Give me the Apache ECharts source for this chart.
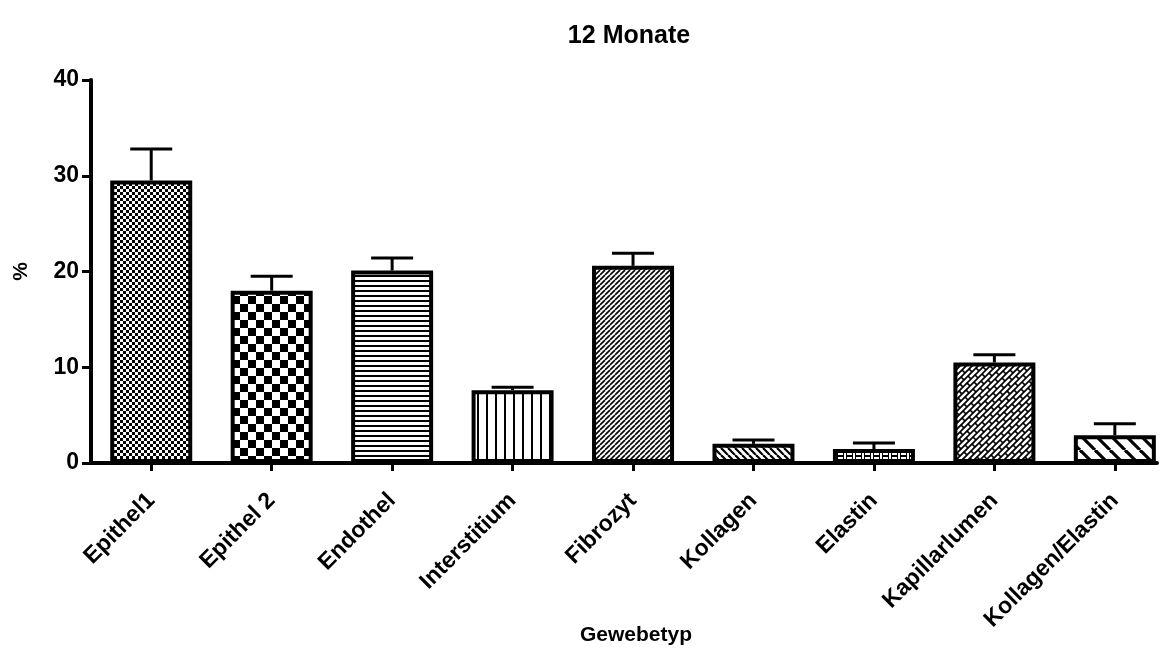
<!DOCTYPE html>
<html>
<head>
<meta charset="utf-8">
<script src="https://cdn.jsdelivr.net/npm/echarts@6/dist/echarts.min.js"></script>
<style>
html,body{margin:0;padding:0;background:#fff;}
#chart{width:1165px;height:668px;}
</style>
</head>
<body>
<div id="chart"></div>
<script>
// Tissue types and mean share (%) with upper error (SEM)
const categories = ['Epithel1', 'Epithel 2', 'Endothel', 'Interstitium', 'Fibrozyt', 'Kollagen', 'Elastin', 'Kapillarlumen', 'Kollagen/Elastin'];
const means = [29.5, 18.0, 20.1, 7.6, 20.6, 2.0, 1.45, 10.5, 2.9];
const errors = [3.3, 1.5, 1.3, 0.3, 1.3, 0.4, 0.65, 0.8, 1.2];
const yTicks = [0, 10, 20, 30, 40];
const positions = categories.map((c, i) => i);

// Build a canvas tile for a fill pattern
function tile(w, h, draw) {
  const c = document.createElement('canvas');
  c.width = w; c.height = h;
  const g = c.getContext('2d');
  g.fillStyle = '#fff'; g.fillRect(0, 0, w, h);
  g.fillStyle = '#000'; g.strokeStyle = '#000';
  draw(g, w, h);
  return { image: c, repeat: 'repeat' };
}
function seg(g, x1, y1, x2, y2) {
  g.beginPath(); g.moveTo(x1, y1); g.lineTo(x2, y2); g.stroke();
}
function diag(g, p, lw, back) {
  g.lineWidth = lw;
  for (let k = -1; k <= 1; k++) {
    if (back) seg(g, k * p, 0, k * p + p, p);
    else seg(g, k * p, p, k * p + p, 0);
  }
}
// Slanted brick weave
function bricks(g) {
  g.lineWidth = 1.7;
  for (let k = -10; k <= 20; k++) {
    const s = 6 * k;
    seg(g, s + 10, -10, s - 70, 70);
    for (let m = -8; m <= 8; m++) {
      const c = 16 * m + 8 * (((k % 2) + 2) % 2);
      seg(g, (s + c) / 2, (s - c) / 2, (s + 6 + c) / 2, (s + 6 - c) / 2);
    }
  }
}
const patterns = [
  tile(6, 6, g => { g.fillRect(0, 0, 3, 3); g.fillRect(3, 3, 3, 3); }),
  tile(16, 16, g => { g.fillRect(0, 0, 8, 8); g.fillRect(8, 8, 8, 8); }),
  tile(5, 5, g => { g.fillRect(0, 0, 5, 2); }),
  tile(9, 9, g => { g.fillRect(0, 0, 2, 9); }),
  tile(5, 5, g => diag(g, 5, 1.6, false)),
  tile(7, 7, g => diag(g, 7, 2.2, true)),
  tile(9, 5, g => { g.fillRect(0, 0, 7, 2); g.fillRect(0, 0, 1, 5); g.fillRect(6, 0, 1, 5); }),
  tile(48, 48, bricks),
  tile(15, 15, g => diag(g, 15, 3.2, true))
];

const font = 'Liberation Sans, Arial, Helvetica, sans-serif';
const chart = echarts.init(document.getElementById('chart'), null, { renderer: 'canvas' });

chart.setOption({
  animation: false,
  backgroundColor: '#fff',
  title: {
    text: '12 Monate', left: 624, top: 19, textAlign: 'center',
    textStyle: { fontFamily: font, fontWeight: 'bold', fontSize: 25, color: '#000' }
  },
  grid: { left: 91, right: 8, top: 80, bottom: 205, containLabel: false, outerBoundsMode: 'none' },
  xAxis: {
    type: 'value', min: -0.5, max: 8.35,
    name: 'Gewebetyp', nameLocation: 'middle', nameGap: 162, nameMoveOverlap: false,
    nameTextStyle: { fontFamily: font, fontWeight: 'bold', fontSize: 21, color: '#000', padding: [0, 0, 0, 24] },
    splitLine: { show: false },
    axisLine: { show: true, onZero: false, lineStyle: { color: '#000', width: 4 } },
    axisTick: { show: true, customValues: positions, length: 8, lineStyle: { color: '#000', width: 3 } },
    axisLabel: {
      customValues: positions, rotate: 45, margin: 34,
      fontFamily: font, fontWeight: 'bold', fontSize: 23, color: '#000',
      formatter: v => categories[Math.round(v)]
    }
  },
  yAxis: {
    type: 'value', min: 0, max: 40, interval: 10,
    name: '%', nameLocation: 'middle', nameGap: 59, nameRotate: 90,
    nameTextStyle: { fontFamily: font, fontWeight: 'bold', fontSize: 21, color: '#000' },
    axisLine: { show: true, onZero: false, lineStyle: { color: '#000', width: 4 } },
    axisTick: { show: true, length: 9, lineStyle: { color: '#000', width: 3 } },
    splitLine: { show: false },
    axisLabel: {
      margin: 12, fontFamily: font, fontWeight: 'bold', fontSize: 23, color: '#000',
      formatter: v => yTicks.includes(v) ? String(v) : ''
    }
  },
  series: [
    {
      type: 'bar', barWidth: 82,
      data: means.map((v, i) => ({
        value: [positions[i], v],
        itemStyle: { color: patterns[i], borderColor: '#000', borderWidth: 4 }
      })),
      z: 2
    },
    {
      type: 'custom',
      data: means.map((v, i) => [positions[i], v, v + errors[i]]),
      z: 3,
      renderItem: (params, api) => {
        const base = api.coord([api.value(0), api.value(1)]);
        const top = api.coord([api.value(0), api.value(2)]);
        const half = 21;
        const st = { stroke: '#000', lineWidth: 3 };
        return {
          type: 'group',
          children: [
            { type: 'line', shape: { x1: base[0], y1: base[1], x2: top[0], y2: top[1] }, style: st },
            { type: 'line', shape: { x1: top[0] - half, y1: top[1], x2: top[0] + half, y2: top[1] }, style: st }
          ]
        };
      }
    }
  ]
});
</script>
</body>
</html>
